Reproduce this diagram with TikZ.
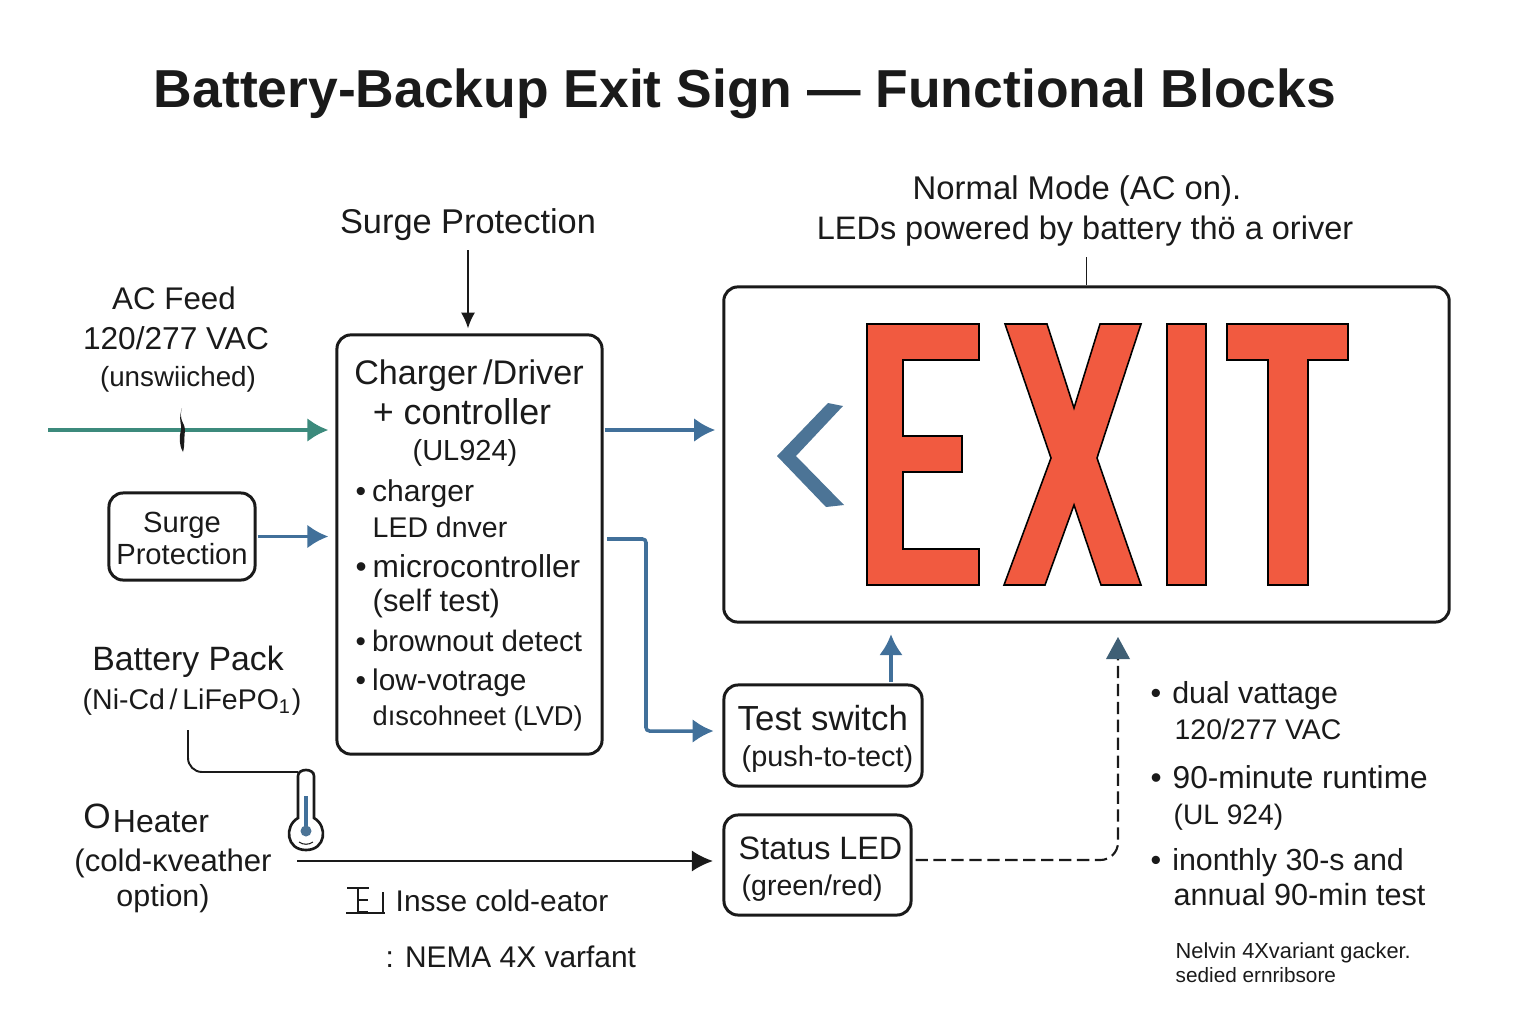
\documentclass[tikz,border=0pt]{standalone}
\usepackage{fontspec}
\setmainfont{Liberation Sans}
\usepackage{tikz}
\usetikzlibrary{arrows.meta, positioning}

\definecolor{exitred}{HTML}{F15A40}
\definecolor{feedteal}{HTML}{3C8A7C}
\definecolor{linkblue}{HTML}{41709A}
\definecolor{slateblue}{HTML}{3F5F75}
\definecolor{chevblue}{HTML}{4C7496}
\definecolor{inktext}{HTML}{1A1A1A}

\tikzset{
    blockbox/.style={draw=inktext, line width=0.85pt, rounded corners=4pt, inner sep=0pt},
    lbl/.style={text=inktext, inner sep=0pt, font=\fontsize{#1}{#1}\selectfont},
    lblleft/.style={lbl=#1, anchor=west},
    bluelink/.style={draw=linkblue, line width=1pt, -{Latex[length=6pt,width=6.8pt]}},
    thinlink/.style={draw=inktext, line width=0.55pt, -{Latex[length=4.5pt,width=4pt]}},
    lettershape/.style={fill=exitred, draw=black, line width=0.45pt},
}
\newcommand{\bul}{•\hspace{1.7pt}}
\newcommand{\bulwide}{•\hspace{3.1pt}}

\begin{document}
\begin{tikzpicture}[x=0.01cm, y=-0.01cm]
    \useasboundingbox (0,0) rectangle (1536,1024);
    % Title
    \node[lbl=15.2, font=\fontsize{15.2}{17}\bfseries\selectfont] (title) at (745,94) {Battery-Backup Exit Sign — Functional Blocks};
    % Blocks
    \node[blockbox, minimum width=2.65cm, minimum height=4.19cm] (charger) at (469.5,544.5) {};
    \node[blockbox, minimum width=1.46cm, minimum height=0.87cm] (surgebox) at (182,536.5) {};
    \node[blockbox, minimum width=7.25cm, minimum height=3.35cm] (exitbox) at (1086.5,454.5) {};
    \node[blockbox, minimum width=1.98cm, minimum height=1.01cm] (testbox) at (823,735.5) {};
    \node[blockbox, minimum width=1.87cm, minimum height=1.00cm] (ledbox) at (817.5,865) {};
    % Labels on the left
    \node[lbl=9.77] (surgetop) at (468,225) {Surge Protection};
    \node[lbl=8.9] (acfeed) at (174,298) {AC Feed};
    \node[lbl=9] (acvolts) at (176,338) {120/277 VAC};
    \node[lbl=7.9] (acnote) at (178,379) {(unswiiched)};
    \node[lbl=8.3] at (182,525) {Surge};
    \node[lbl=8.3] at (182,554) {Protection};
    \node[lbl=9.6] (battery) at (188,662) {Battery Pack};
    \node[lbl=8.1] (batterytype) at (192,702) {(Ni-Cd\,/\,LiFePO\textsubscript{1})};
    \node[lbl=10] (heaterring) at (97,816) {O};
    \node[lbl=9.1] (heater) at (161,822) {Heater};
    \node[lbl=8.85] (heateropt) at (173,863) {(cold-κveather};
    \node[lbl=8.65] (heateropttwo) at (163,899) {option)};
    % Charger text
    \node[lbl=9.7] at (469,376) {Charger\,/Driver};
    \node[lbl=10.2] at (462,412) {+ controller};
    \node[lbl=8.25] at (465,453) {(UL924)};
    \node[lblleft=8.55] at (355,494) {\bul charger};
    \node[lblleft=8.1] at (372,527) {LED dnver};
    \node[lblleft=9] at (355,566) {\bul microcontroller};
    \node[lblleft=8.8] at (372,603) {(self test)};
    \node[lblleft=8.4] at (355,641) {\bul brownout detect};
    \node[lblleft=8.5] at (355,683) {\bul low-votrage};
    \node[lblleft=7.75] at (372,718) {dıscohneet (LVD)};
    % Labels around the sign
    \node[lbl=9.34] (modeone) at (1077,191) {Normal Mode (AC on).};
    \node[lbl=9.24] (modetwo) at (1085,231) {LEDs powered by battery thö a oriver};
    \coordinate (modefoot) at (1086,258);
    \node[lblleft=9.9] at (737,718) {Test switch};
    \node[lblleft=8.2] at (741,759) {(push-to-tect)};
    \node[lblleft=9.2] at (738,848) {Status LED};
    \node[lblleft=8.1] at (741,888) {(green/red)};
    % Bullets on the right
    \node[lblleft=8.65] at (1150,696) {\bulwide dual vattage};
    \node[lblleft=8.07] at (1174,729) {120/277 VAC};
    \node[lblleft=9] at (1150,777) {\bulwide 90-minute runtime};
    \node[lblleft=8] at (1173,817) {(UL 924)};
    \node[lblleft=8.65] at (1150,863) {\bulwide inonthly 30-s and};
    \node[lblleft=8.7] at (1173,895) {annual 90-min test};
    \node[lblleft=6.2] at (1175,953) {Nelvin 4Xvariant gacker.};
    \node[lblleft=5.9] at (1175,975) {sedied ernribsore};
    % Bottom notes
    \node[lblleft=8.5] (notecold) at (395,901) {Insse cold-eator};
    \node[lblleft=8.5] (notenema) at (385,957) {: NEMA 4X varfant};
    % Note icon
    \draw[draw=inktext, line width=0.5pt] (347,888) -- (369,888) (358,888) -- (358,912) -- (368,912) (358,900) -- (368,900) (346,913) -- (385,913) (383,892) -- (383,912);
    % EXIT letters
    \fill[chevblue] (828,403) -- (843,406) -- (796,456) -- (844,505) -- (826,507) -- (777,456) -- cycle;
    \filldraw[lettershape] (867,324) -- (979,324) -- (979,360) -- (903,360) -- (903,436) -- (962,436) -- (962,472) -- (903,472) -- (903,549) -- (979,549) -- (979,585) -- (867,585) -- cycle;
    \filldraw[lettershape] (1005,324) -- (1047,324) -- (1074,408) -- (1100,324) -- (1141,324) -- (1097,458) -- (1141,585) -- (1101,585) -- (1074,505) -- (1045,585) -- (1004,585) -- (1051,458) -- cycle;
    \filldraw[lettershape] (1167,324) rectangle (1206,585);
    \filldraw[lettershape] (1227,324) -- (1348,324) -- (1348,360) -- (1308,360) -- (1308,585) -- (1268,585) -- (1268,360) -- (1227,360) -- cycle;
    % Connectors
    \coordinate (acstart) at (48,430);
    \draw[bluelink, draw=feedteal, fill=feedteal, shorten >=2pt] (acstart) -- (charger.west |- acstart);
    \fill[inktext] (182,408) .. controls (178,420) and (186,425) .. (185,430) .. controls (184,436) and (185,445) .. (183,452) .. controls (179,445) and (179,437) .. (181,430) .. controls (182,424) and (178,420) .. (182,408);
    \draw[bluelink, shorten <=0.3pt, shorten >=2pt] (surgebox.east) -- (charger.west |- surgebox.east);
    \draw[thinlink, shorten <=2.4pt, shorten >=1.4pt] (surgetop.south) -- (charger.north -| surgetop.south);
    \draw[bluelink, shorten <=0.3pt, shorten >=2pt] (charger.east |- acstart) -- (exitbox.west |- acstart);
    \coordinate (testfork) at (646,539);
    \coordinate (testin) at (646,731);
    \draw[bluelink, shorten >=2.5pt, rounded corners=1pt] (607,539) -- (testfork) -- (testin) -- (testbox.west |- testin);
    \coordinate (testup) at (891,682);
    \draw[bluelink, shorten >=3pt] (testup) -- (exitbox.south -| testup);
    \coordinate (ledup) at (1118,640);
    \draw[draw=inktext, line width=0.6pt, dash pattern=on 3.5pt off 1.6pt, rounded corners=5pt] (ledbox.east) ++(3,-5) -- (1118,860) -- (ledup);
    \fill[slateblue] (1118,637) -- (1130,659) -- (1106,659) -- cycle;
    \draw[draw=inktext, line width=0.5pt] (modefoot) -- (exitbox.north |- modefoot) -- (exitbox.north);
    \coordinate (heaterout) at (297,861);
    \draw[thinlink, -{Latex[length=6pt,width=6pt]}, shorten >=2.7pt] (heaterout) -- (ledbox.west |- heaterout);
    % Thermometer
    \coordinate (batterydrop) at (188,730);
    \coordinate (thermotop) at (298,772);
    \draw[draw=inktext, line width=0.55pt, rounded corners=4pt] (batterydrop) -- (188,772) -- (thermotop);
    \draw[draw=inktext, line width=0.75pt, fill=white] (298,818) -- (298,776) .. controls (298,768) and (314,768) .. (314,776) -- (314,818) .. controls (328,826) and (326,850) .. (306,850) .. controls (286,850) and (284,826) .. (298,818) -- cycle;
    \draw[draw=linkblue, line width=0.9pt] (306,796) -- (306,826);
    \fill[chevblue] (306,831) circle[radius=5.5];
    \draw[draw=inktext, line width=0.3pt] (299,842) .. controls (303,845) and (309,845) .. (313,842);
\end{tikzpicture}
\end{document}
